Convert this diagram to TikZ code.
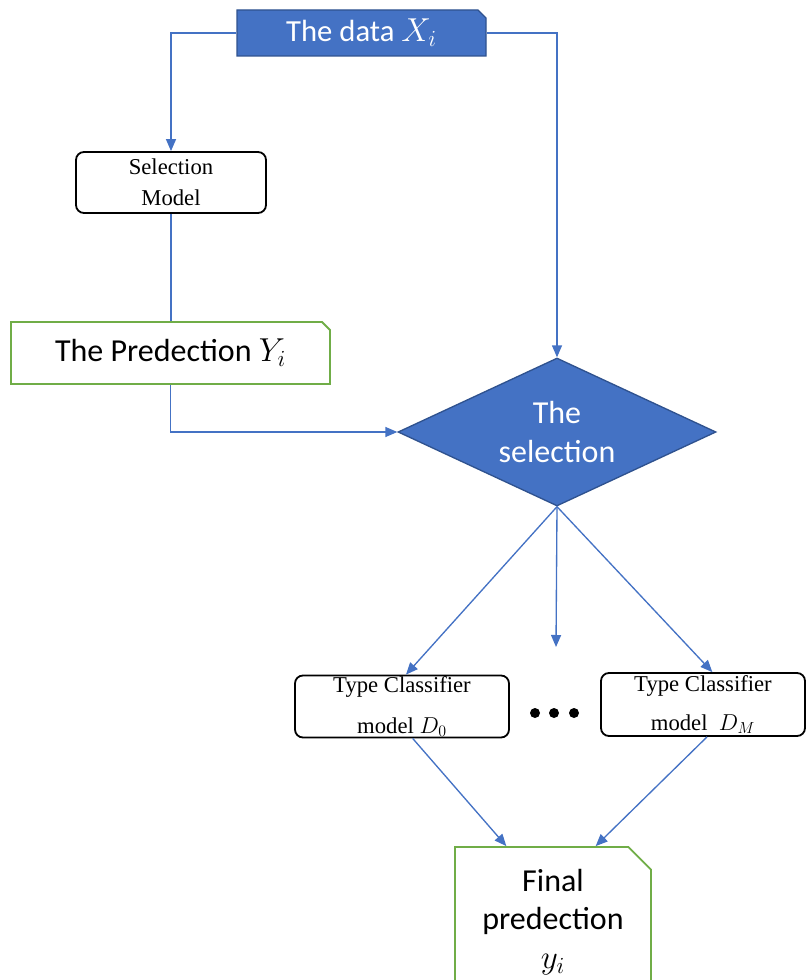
\documentclass[tikz,border=0pt]{standalone}
\usepackage{fontspec}
\setmainfont{Liberation Serif}
\newfontfamily\calibri{Carlito}
\usetikzlibrary{arrows.meta,shapes.geometric,shapes.misc}
\definecolor{accblue}{HTML}{4472C4}
\definecolor{darkblue}{HTML}{2F528F}
\definecolor{accgreen}{HTML}{70AD47}
\begin{document}
\begin{tikzpicture}[x=0.75pt,y=-0.75pt,
  flow/.style={draw=accblue,line width=1pt,-{Triangle[length=9pt,width=7.5pt]}},
  link/.style={draw=accblue,line width=1pt},
  modelbox/.style={draw=black,line width=1.35pt,rounded corners=6pt,inner sep=0pt,
    align=center,font=\fontsize{17}{23}\selectfont},
  notebox/.style={chamfered rectangle,chamfered rectangle corners=north east,
    chamfered rectangle xsep=3pt,chamfered rectangle ysep=3pt,
    draw=accgreen,line width=1.35pt,inner sep=0pt,align=center,
    font=\calibri\fontsize{24}{29}\selectfont},
  databox/.style={chamfered rectangle,chamfered rectangle corners=north east,
    chamfered rectangle xsep=3pt,chamfered rectangle ysep=3pt,
    fill=accblue,draw=darkblue,line width=1pt,inner sep=0pt,text=white,
    font=\calibri\fontsize{23}{29}\selectfont},
  decision/.style={diamond,fill=accblue,draw=darkblue,line width=1pt,inner sep=0pt,
    text=white,align=center,font=\calibri\fontsize{24}{29}\selectfont}
]
\useasboundingbox (0,0) rectangle (808,980);
\clip (0,0) rectangle (808,980);

% nodes
\node[databox,minimum width=249*0.75pt,minimum height=46*0.75pt] (data) at (361.5,33) {The data $X_i$};
\node[modelbox,minimum width=190*0.75pt,minimum height=61*0.75pt] (sel) at (171,182.5) {Selection\\Model};
\node[notebox,minimum width=319*0.75pt,minimum height=62*0.75pt] (pred) at (170.5,353) {The Predection $Y_i$};
\node[decision,aspect=2.15,minimum width=318*0.75pt,minimum height=148*0.75pt] (dia) at (557,432) {The\\selection};
\node[modelbox,minimum width=214*0.75pt,minimum height=62*0.75pt] (c0) at (402,706.5) {Type Classifier\\[8pt]model $D_0$};
\node[modelbox,minimum width=204*0.75pt,minimum height=63*0.75pt] (cM) at (703,704.5) {Type Classifier\\[6pt]model\ \ $D_M$};
\node[notebox,chamfered rectangle xsep=8.5pt,chamfered rectangle ysep=8.5pt,
  minimum width=196*0.75pt,minimum height=150*0.75pt] (fin) at (553,922) {Final\\predection\\$y_i$};
\coordinate (open) at (556,647);

% ellipsis between the classifiers
\foreach \dx in {535,554,574} \fill (\dx,713) circle (5);

% connectors
\draw[flow] (data.west) -| (sel.north);
\draw[flow] (data.east) -| (dia.north);
\draw[link] (sel.south) -- (sel.south |- pred.north);
\draw[flow] (pred.south) |- (dia.west);
\draw[flow] (dia.south) -- ([xshift=3]c0.north);
\draw[flow] (dia.south) -- (open);
\draw[flow] (dia.south) -- ([xshift=7]cM.north);
\draw[flow] ([xshift=8]c0.south) -- ([xshift=-35]fin.north);
\draw[flow] ([xshift=3]cM.south) -- ([xshift=32]fin.north);
\end{tikzpicture}
\end{document}
